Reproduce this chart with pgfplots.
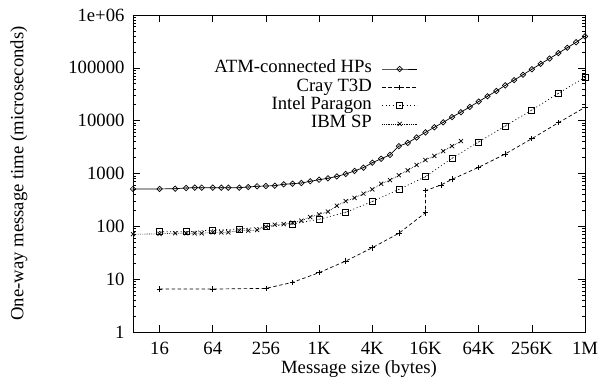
\documentclass[border=0pt]{standalone}
\usepackage{fontspec}
\setmainfont{Liberation Serif}
\usepackage{pgfplots}
\pgfplotsset{compat=1.18}
\pgfdeclareplotmark{diadot}{%
  \pgfpathmoveto{\pgfqpoint{0pt}{\pgfplotmarksize}}%
  \pgfpathlineto{\pgfqpoint{\pgfplotmarksize}{0pt}}%
  \pgfpathlineto{\pgfqpoint{0pt}{-\pgfplotmarksize}}%
  \pgfpathlineto{\pgfqpoint{-\pgfplotmarksize}{0pt}}%
  \pgfpathclose\pgfusepathqstroke
  \pgfpathcircle{\pgfpointorigin}{0.6pt}\pgfusepathqfill}
\pgfdeclareplotmark{sqdot}{%
  \pgfpathrectangle{\pgfqpoint{-\pgfplotmarksize}{-\pgfplotmarksize}}{\pgfqpoint{2\pgfplotmarksize}{2\pgfplotmarksize}}%
  \pgfusepathqstroke
  \pgfpathcircle{\pgfpointorigin}{0.6pt}\pgfusepathqfill}
\newcommand{\ff}{\fontsize{18.7bp}{22bp}\selectfont}
\begin{document}
\begin{tikzpicture}[font=\ff]
\begin{axis}[
  name=ax, at={(0,0)}, anchor=south west,
  scale only axis, width=452bp, height=317bp,
  xmode=log, log basis x=2, ymode=log,
  xmin=8, xmax=1048576, ymin=1, ymax=1000000,
  xtick={16,64,256,1024,4096,16384,65536,262144,1048576},
  xticklabels={16,64,256,1K,4K,16K,64K,256K,1M},
  ytick={1,10,100,1000,10000,100000,1000000},
  yticklabels={1,10,100,1000,10000,100000,1e+06},
  xminorticks=false,
  tick align=inside,
  major tick length=7bp, minor tick length=3.5bp,
  every tick/.style={black, line width=0.6bp},
  axis line style={line width=0.8bp},
  tick label style={font=\ff},
  xticklabel style={yshift=-7bp},
  yticklabel style={xshift=-5bp},
  label style={font=\ff},
  xlabel={Message size (bytes)},
  ylabel={One-way message time (microseconds)},
  xlabel style={at={(axis description cs:0.5,-0.117)}, anchor=center},
  ylabel style={at={(axis description cs:-0.2522,0.5)}, anchor=center},
  legend plot pos=right, legend cell align=right,
  legend style={draw=none, fill=none, at={(axis description cs:0.6295,0.8585)}, anchor=north east,
    inner sep=0pt, outer sep=0pt, row sep=0pt, font=\ff,
    nodes={inner sep=0pt, text height=13bp, text depth=5.3bp},
    /tikz/every odd column/.append style={column sep=10bp}},
  legend image code/.code={\draw[mark repeat=2, mark phase=2] plot coordinates {(0bp,0bp) (17.5bp,0bp) (35bp,0bp)};},
]
% ATM-connected HPs
\addplot[black, line width=0.7bp, mark=diadot, mark size=2.7bp, mark options={solid}] coordinates {
(8,510) (16,510) (24,516) (32,532) (40,539) (48,539) (64,539) (80,539) (96,539)
(128,539) (161.3,555) (203.2,573) (256,580) (322.5,588) (406.4,625) (512,641)
(645.1,661) (812.7,712) (1024,764) (1290.2,811) (1625.5,880) (2048,980) (2580.3,1120)
(3251,1290) (4096,1600) (5160.6,1900) (6502,2250) (8192,3300) (10321,3800) (13004,4800)
(16384,6000) (20643,7500) (26008,9300) (32768,11700) (41285,14500) (52016,18200)
(65536,23000) (82570,29000) (104032,36500) (131072,46500) (165140,58500) (208064,74000)
(262144,94000) (330281,119000) (416128,150000) (524288,190000) (660561,240000)
(832255,305000) (1048576,395000)
};
\addlegendentry{ATM-connected HPs}
% Cray T3D
\addplot[black, line width=0.7bp, dash pattern=on 3.5bp off 2.5bp, mark=+, mark size=2.8bp, mark options={solid}] coordinates {
(16,6.5) (64,6.5) (256,6.7) (512,8.7) (1024,13.3) (2048,22) (4096,39.4) (8192,74)
(16384,181) (16384,473) (24576,606) (32768,777) (65536,1310) (131072,2340)
(262144,4560) (524288,9160) (1048576,17900)
};
\addlegendentry{Cray T3D}
% Intel Paragon
\addplot[black, line width=0.7bp, dash pattern=on 1bp off 2.5bp, mark=sqdot, mark size=3bp, mark options={solid}] coordinates {
(16,79) (32,79) (64,85) (128,89) (256,98) (512,111) (1024,136) (2048,184) (4096,295)
(8192,500) (16384,870) (32768,1940) (65536,3950) (131072,7930) (262144,15900)
(524288,33000) (1048576,66300)
};
\addlegendentry{Intel Paragon}
% IBM SP
\addplot[black, line width=0.6bp, dash pattern=on 0.7bp off 1.1bp, mark=x, mark size=2.9bp, mark options={solid, line width=0.7bp}] coordinates {
(8,71) (16,72) (24,74) (32,74) (40,74) (48,74) (64,77) (80,77) (96,77)
(128,83) (161.3,83) (203.2,85) (256,98) (322.5,108) (406.4,110) (512,117)
(645.1,128) (812.7,150) (1024,168) (1290.2,190) (1625.5,245) (2048,300) (2580.3,345)
(3251,415) (4096,500) (5160.6,640) (6502,750) (8192,930) (10321,1150) (13004,1450)
(16384,1800) (20643,2150) (26008,2650) (32768,3300) (41285,4100)
};
\addlegendentry{IBM SP}
\end{axis}
\pgfresetboundingbox
\path ([xshift=-133bp,yshift=-49bp]ax.south west) rectangle ([xshift=13bp,yshift=15bp]ax.north east);
\end{tikzpicture}
\end{document}
